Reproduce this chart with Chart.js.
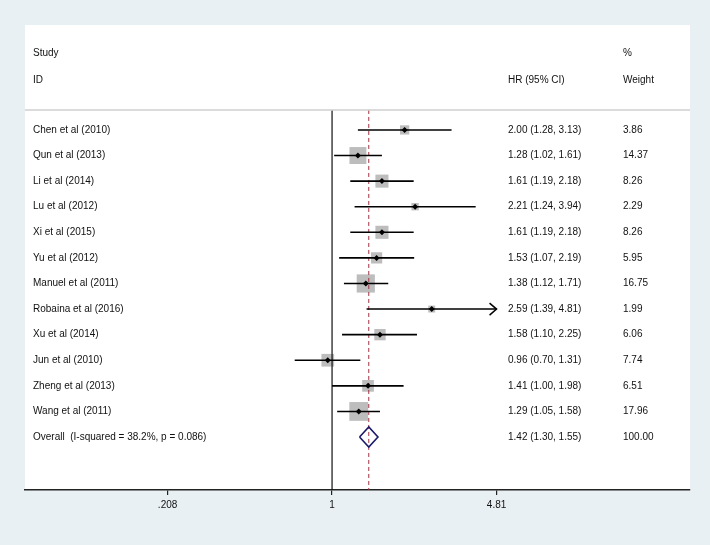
<!DOCTYPE html>
<html>
<head>
<meta charset="utf-8">
<script src="https://cdn.jsdelivr.net/npm/chart.js@4.4.1/dist/chart.umd.min.js"></script>
<style>
  html, body { margin: 0; padding: 0; background: #e9f0f3; }
  #wrap { width: 710px; height: 545px; }
</style>
</head>
<body>
<div id="wrap"><canvas id="c" width="710" height="545"></canvas></div>
<script>
// ---- data ----
const studies = ["Chen et al (2010)", "Qun et al (2013)", "Li et al (2014)", "Lu et al (2012)",
  "Xi et al (2015)", "Yu et al (2012)", "Manuel et al (2011)", "Robaina et al (2016)",
  "Xu et al (2014)", "Jun et al (2010)", "Zheng et al (2013)", "Wang et al (2011)"];
const hr     = [2.00, 1.28, 1.61, 2.21, 1.61, 1.53, 1.38, 2.59, 1.58, 0.96, 1.41, 1.29];
const lower  = [1.28, 1.02, 1.19, 1.24, 1.19, 1.07, 1.12, 1.39, 1.10, 0.70, 1.00, 1.05];
const upper  = [3.13, 1.61, 2.18, 3.94, 2.18, 2.19, 1.71, 4.81, 2.25, 1.31, 1.98, 1.58];
const weight = [3.86, 14.37, 8.26, 2.29, 8.26, 5.95, 16.75, 1.99, 6.06, 7.74, 6.51, 17.96];
const overallLabel = "Overall  (I-squared = 38.2%, p = 0.086)";
const overallHR = 1.42, overallLo = 1.30, overallHi = 1.55, overallWeight = 100.00;
const tickValues = [0.208, 1, 4.81];
const tickLabels = [".208", "1", "4.81"];
const headerLeft = ["Study", "ID"];
const headerMid = "HR (95% CI)";
const headerRight = ["%", "Weight"];

// ---- layout constants (rows on y scale) ----
const Y_MIN = -4.1, Y_MAX = 14.07, Y_SEP = -0.78;
const nRows = studies.length;
const overallRow = nRows;

const fmt = v => v.toFixed(2);

const datasets = [];
// overall diamond (top)
datasets.push({
  data: [{x: overallLo, y: overallRow}, {x: overallHR, y: overallRow - 0.39},
         {x: overallHi, y: overallRow}, {x: overallHR, y: overallRow + 0.39},
         {x: overallLo, y: overallRow}],
  showLine: true, borderColor: '#1b1a6b', borderWidth: 1.6, pointRadius: 0, order: 0
});
// black point markers
datasets.push({
  data: hr.map((v, i) => ({x: v, y: i})),
  pointStyle: 'rectRot', pointRadius: 3, backgroundColor: '#000', borderWidth: 0, order: 1
});
// CI lines
studies.forEach((s, i) => {
  datasets.push({
    data: [{x: lower[i], y: i}, {x: upper[i], y: i}],
    showLine: true, borderColor: '#000', borderWidth: 1.6, pointRadius: 0, order: 2
  });
});
// dashed overall line
datasets.push({
  data: [{x: overallHR, y: Y_SEP}, {x: overallHR, y: Y_MAX}],
  showLine: true, borderColor: '#a03040', borderWidth: 1, borderDash: [4, 3], pointRadius: 0, order: 3
});
// null line at 1
datasets.push({
  data: [{x: 1, y: Y_SEP}, {x: 1, y: Y_MAX}],
  showLine: true, borderColor: '#111', borderWidth: 1.2, pointRadius: 0, order: 4
});
// weight squares
datasets.push({
  data: hr.map((v, i) => ({x: v, y: i})),
  pointStyle: 'rect',
  pointRadius: weight.map(w => (4.2 * Math.sqrt(w) + 1) / Math.SQRT2),
  backgroundColor: '#bdbdbd', borderWidth: 0, order: 5
});

const textPlugin = {
  id: 'forestText',
  beforeDraw(chart) {
    const {ctx, chartArea: a} = chart;
    ctx.save();
    ctx.fillStyle = '#ffffff';
    ctx.fillRect(a.left, a.top, a.right - a.left, a.bottom - a.top);
    ctx.restore();
  },
  afterDatasetsDraw(chart) {
    const {ctx, chartArea: a, scales: {x, y}} = chart;
    ctx.save();
    // separator under header
    const ys = y.getPixelForValue(Y_SEP);
    ctx.strokeStyle = '#cfcfcf';
    ctx.lineWidth = 1.5;
    ctx.beginPath(); ctx.moveTo(a.left, ys); ctx.lineTo(a.right, ys); ctx.stroke();
    // arrows where CI goes beyond axis label range
    const maxTick = tickValues[tickValues.length - 1];
    ctx.strokeStyle = '#000'; ctx.lineWidth = 1.5;
    upper.forEach((u, i) => {
      if (u >= maxTick) {
        const px = x.getPixelForValue(u), py = y.getPixelForValue(i);
        ctx.beginPath();
        ctx.moveTo(px - 7, py - 6); ctx.lineTo(px, py); ctx.lineTo(px - 7, py + 6);
        ctx.stroke();
      }
    });
    // text
    ctx.fillStyle = '#111';
    ctx.font = '10px "Liberation Sans", Arial, Helvetica, sans-serif';
    ctx.textBaseline = 'middle';
    ctx.textAlign = 'left';
    const colL = a.left + 8, colM = 508, colR = 623;
    const hy1 = y.getPixelForValue(-3.01), hy2 = y.getPixelForValue(-1.95);
    ctx.fillText(headerLeft[0], colL, hy1);
    ctx.fillText(headerLeft[1], colL, hy2);
    ctx.fillText(headerMid, colM, hy2);
    ctx.fillText(headerRight[0], colR, hy1);
    ctx.fillText(headerRight[1], colR, hy2);
    studies.forEach((s, i) => {
      const py = y.getPixelForValue(i);
      ctx.fillText(s, colL, py);
      ctx.fillText(`${fmt(hr[i])} (${fmt(lower[i])}, ${fmt(upper[i])})`, colM, py);
      ctx.fillText(fmt(weight[i]), colR, py);
    });
    const po = y.getPixelForValue(overallRow);
    ctx.fillText(overallLabel, colL, po);
    ctx.fillText(`${fmt(overallHR)} (${fmt(overallLo)}, ${fmt(overallHi)})`, colM, po);
    ctx.fillText(fmt(overallWeight), colR, po);
    ctx.restore();
  }
};

new Chart(document.getElementById('c'), {
  type: 'scatter',
  data: { datasets },
  plugins: [textPlugin],
  options: {
    responsive: false,
    animation: false,
    events: [],
    layout: { padding: { left: 25, right: 20, top: 25, bottom: 0 } },
    plugins: { legend: { display: false }, tooltip: { enabled: false } },
    scales: {
      x: {
        type: 'logarithmic',
        min: 0.0533, max: 30.5,
        position: 'bottom',
        afterFit: s => { s.height = 55; },
        afterBuildTicks: s => { s.ticks = tickValues.map(v => ({ value: v })); },
        grid: { display: true, drawOnChartArea: false, drawTicks: true, tickLength: 5, color: '#222', lineWidth: 1.2 },
        border: { display: true, color: '#222', width: 1.4 },
        ticks: {
          autoSkip: false, maxRotation: 0, padding: 4, color: '#111',
          font: { family: '"Liberation Sans", Arial, Helvetica, sans-serif', size: 10 },
          callback: (v, i) => tickLabels[i]
        }
      },
      y: {
        type: 'linear', reverse: true, min: Y_MIN, max: Y_MAX, display: false
      }
    }
  }
});
</script>
</body>
</html>
